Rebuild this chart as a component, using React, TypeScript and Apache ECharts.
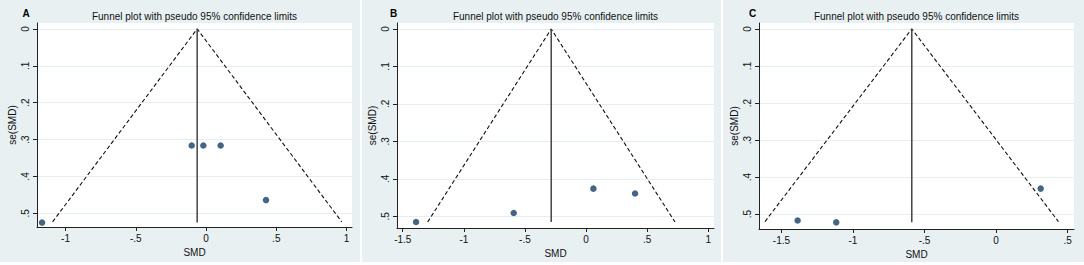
import React, { useEffect, useRef } from "react";
import * as echarts from "echarts";

// ---------- data ----------
const panelLetters = ["A", "B", "C"];
const titleText = "Funnel plot with pseudo 95% confidence limits";
const xAxisTitle = "SMD";
const yAxisTitle = "se(SMD)";

const yTicks = [0, 0.1, 0.2, 0.3, 0.4, 0.5];
const xTicksA = [-1, -0.5, 0, 0.5, 1];
const xTicksB = [-1.5, -1, -0.5, 0, 0.5, 1];
const xTicksC = [-1.5, -1, -0.5, 0, 0.5];

// studies
const smdA = [-1.167, -0.102, -0.019, 0.104, 0.427];
const seA = [0.525, 0.316, 0.316, 0.316, 0.464];
const smdB = [-1.391, -0.592, 0.06, 0.401];
const seB = [0.515, 0.491, 0.426, 0.439];
const smdC = [-1.387, -1.117, 0.312];
const seC = [0.517, 0.522, 0.431];

// pseudo 95% limits (left end, apex, right end)
const funnelSmdA = [-1.092, -0.063, 0.966];
const funnelSeA = [0.523, 0, 0.523];
const funnelSmdB = [-1.296, -0.285, 0.728];
const funnelSeB = [0.515, 0, 0.515];
const funnelSmdC = [-1.615, -0.589, 0.436];
const funnelSeC = [0.52, 0, 0.52];

// pooled effect line (SMD, se range)
const pooledSmdA = [-0.063, -0.063];
const pooledSeA = [0, 0.525];
const pooledSmdB = [-0.285, -0.285];
const pooledSeB = [0, 0.515];
const pooledSmdC = [-0.589, -0.589];
const pooledSeC = [0, 0.522];

// axis ranges
const xRangeA = [-1.203, 1.039];
const xRangeB = [-1.547, 1.047];
const xRangeC = [-1.657, 0.545];
const yRangeA = [-0.016, 0.537];
const yRangeB = [-0.016, 0.531];
const yRangeC = [-0.016, 0.54];

// ---------- layout / style ----------
const FONT = "'Liberation Sans', Arial, Helvetica, sans-serif";
const BG = "#e8f0f2";
const GRIDLINE = "#e6eef1";
const NAVY = "#163f69";

const grids = [
  { left: 37, top: 23, width: 315, height: 204 },
  { left: 397, top: 23, width: 317, height: 205 },
  { left: 759, top: 23, width: 315, height: 206 },
];
const panelRects = [
  { x: 0, w: 360 },
  { x: 362, w: 359 },
  { x: 723, w: 361 },
];
const letterX = [26, 393.5, 752.5];

const fmt = (v: number) => {
  if (Math.abs(v) < 1e-9) return "0";
  const s = String(Math.round(v * 10) / 10);
  return s.replace(/^(-?)0\./, "$1.");
};

const pairs = (xs: number[], ys: number[]) => xs.map((x, i) => [x, ys[i]]);

const panels = [
  { xTicks: xTicksA, xr: xRangeA, yr: yRangeA, smd: smdA, se: seA, fs: funnelSmdA, fse: funnelSeA, ps: pooledSmdA, pse: pooledSeA },
  { xTicks: xTicksB, xr: xRangeB, yr: yRangeB, smd: smdB, se: seB, fs: funnelSmdB, fse: funnelSeB, ps: pooledSmdB, pse: pooledSeB },
  { xTicks: xTicksC, xr: xRangeC, yr: yRangeC, smd: smdC, se: seC, fs: funnelSmdC, fse: funnelSeC, ps: pooledSmdC, pse: pooledSeC },
];

function buildOption() {
  const grid: any[] = [];
  const xAxis: any[] = [];
  const yAxis: any[] = [];
  const series: any[] = [];
  const graphic: any[] = [];

  panels.forEach((p, i) => {
    const g = grids[i];
    grid.push({
      left: g.left,
      top: g.top,
      width: g.width,
      height: g.height,
      show: true,
      backgroundColor: "#ffffff",
      borderWidth: 0,
    });
    xAxis.push({
      type: "value",
      gridIndex: i,
      min: p.xr[0],
      max: p.xr[1],
      position: "bottom",
      name: xAxisTitle,
      nameLocation: "middle",
      nameGap: 17,
      nameTextStyle: { fontFamily: FONT, fontSize: 10, color: "#111" },
      axisLine: { show: true, onZero: false, lineStyle: { color: "#222", width: 1 } },
      axisTick: { show: true, length: 4, customValues: p.xTicks, lineStyle: { color: "#222" } },
      axisLabel: {
        customValues: p.xTicks,
        formatter: fmt,
        fontFamily: FONT,
        fontSize: 10,
        color: "#111",
        margin: 6,
      },
      splitLine: { show: false },
    });
    yAxis.push({
      type: "value",
      gridIndex: i,
      inverse: true,
      min: p.yr[0],
      max: p.yr[1],
      position: "left",
      name: yAxisTitle,
      nameLocation: "middle",
      nameGap: 20,
      nameTextStyle: { fontFamily: FONT, fontSize: 10, color: "#111" },
      axisLine: { show: true, onZero: false, lineStyle: { color: "#222", width: 1 } },
      axisTick: { show: true, length: 4, customValues: yTicks, lineStyle: { color: "#222" } },
      axisLabel: {
        customValues: yTicks,
        formatter: fmt,
        rotate: 90,
        fontFamily: FONT,
        fontSize: 10,
        color: "#111",
        margin: 7,
      },
      splitLine: { show: true, lineStyle: { color: GRIDLINE, width: 1 } },
    });

    series.push({
      type: "line",
      xAxisIndex: i,
      yAxisIndex: i,
      data: pairs(p.fs, p.fse),
      symbol: "none",
      lineStyle: { color: "#111", width: 1.1, type: [4, 2.5] },
      z: 3,
    });
    series.push({
      type: "line",
      xAxisIndex: i,
      yAxisIndex: i,
      data: pairs(p.ps, p.pse),
      symbol: "none",
      lineStyle: { color: "#444", width: 1.5 },
      z: 3,
    });
    series.push({
      type: "scatter",
      xAxisIndex: i,
      yAxisIndex: i,
      data: pairs(p.smd, p.se),
      symbol: "circle",
      symbolSize: 6.5,
      itemStyle: { color: NAVY },
      z: 4,
    });

    graphic.push({
      type: "rect",
      z: -10,
      shape: { x: panelRects[i].x, y: 0, width: panelRects[i].w, height: 262 },
      style: { fill: BG },
      silent: true,
    });
    graphic.push({
      type: "text",
      x: g.left + g.width / 2,
      y: 16,
      style: {
        text: titleText,
        fontFamily: FONT,
        fontSize: 10,
        fill: "#111",
        align: "center",
        verticalAlign: "middle",
      },
    });
    graphic.push({
      type: "text",
      x: letterX[i],
      y: 13,
      style: {
        text: panelLetters[i],
        fontFamily: FONT,
        fontSize: 10,
        fontWeight: "bold",
        fill: "#000",
        align: "center",
        verticalAlign: "middle",
      },
    });
  });

  return {
    animation: false,
    backgroundColor: "#ffffff",
    grid,
    xAxis,
    yAxis,
    series,
    graphic,
  };
}

export default function App() {
  const ref = useRef<HTMLDivElement>(null);
  useEffect(() => {
    if (!ref.current) return;
    const chart = echarts.init(ref.current, null, { renderer: "svg" });
    chart.setOption(buildOption() as any);
    return () => chart.dispose();
  }, []);
  return (
    <div
      ref={ref}
      style={{ position: "absolute", left: 0, top: 0, width: 1084, height: 265 }}
    />
  );
}
